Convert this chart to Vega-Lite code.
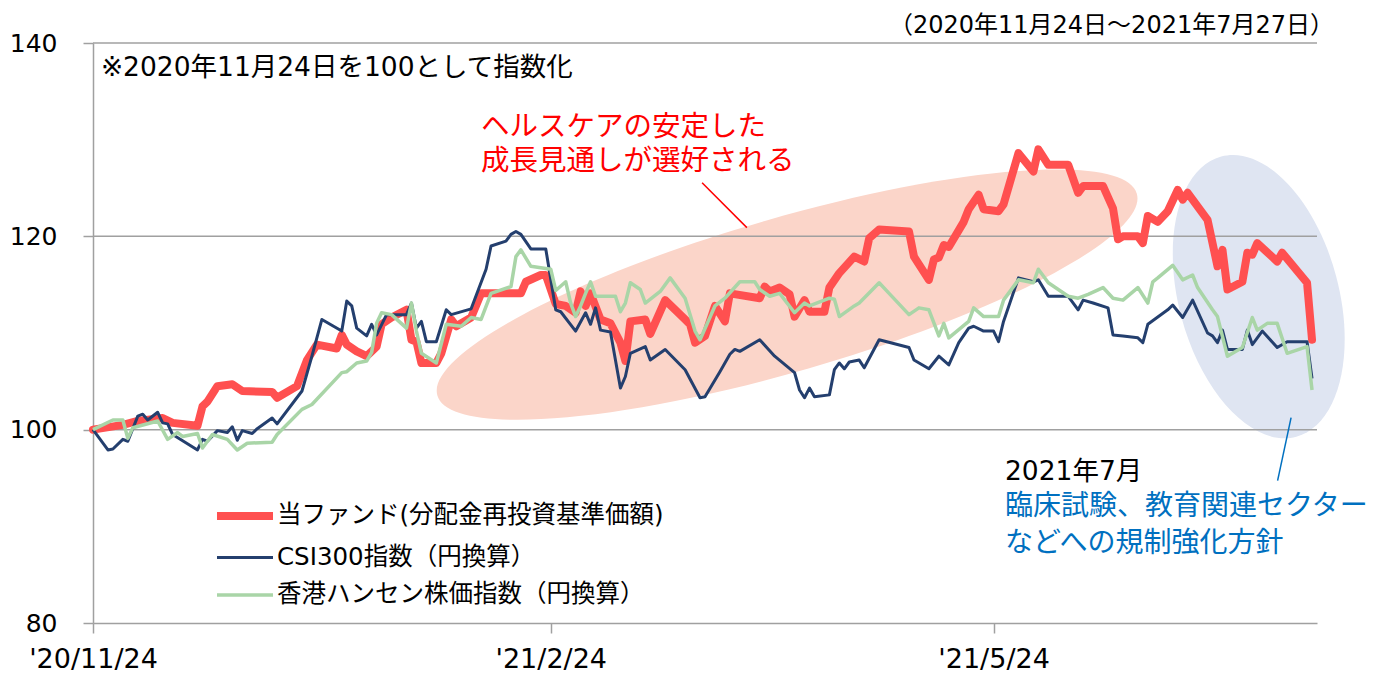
{
  "$schema": "https://vega.github.io/schema/vega-lite/v6.json",
  "width": 1224,
  "height": 580,
  "autosize": {"type": "none"},
  "padding": {"left": 93, "top": 43, "right": 67, "bottom": 50},
  "background": "#ffffff",
  "config": {
    "view": {"stroke": null},
    "font": "DejaVu Sans, Noto Sans CJK JP",
    "legend": {"orient": "none", "legendX": 124, "legendY": 445, "symbolType": "M -1.1667 0 L 1.1667 0", "symbolSize": 2304, "labelFont": "DejaVu Sans, Noto Sans CJK JP", "labelFontSize": 24.5, "labelColor": "#000000", "labelLimit": 0, "rowPadding": 0, "padding": 0, "labelOffset": 4}
  },
  "datasets": {
    "series": [
      {"s": "fund", "date": "2020-11-24", "value": 100.0}, {"s": "fund", "date": "2020-11-30", "value": 100.5}, {"s": "fund", "date": "2020-12-03", "value": 100.9}, {"s": "fund", "date": "2020-12-08", "value": 101.2}, {"s": "fund", "date": "2020-12-10", "value": 100.7}, {"s": "fund", "date": "2020-12-15", "value": 100.4}, {"s": "fund", "date": "2020-12-16", "value": 102.4}, {"s": "fund", "date": "2020-12-17", "value": 102.9}, {"s": "fund", "date": "2020-12-19", "value": 104.5}, {"s": "fund", "date": "2020-12-22", "value": 104.7}, {"s": "fund", "date": "2020-12-24", "value": 104.0}, {"s": "fund", "date": "2020-12-30", "value": 103.9}, {"s": "fund", "date": "2020-12-31", "value": 103.3},
      {"s": "fund", "date": "2021-01-04", "value": 104.5}, {"s": "fund", "date": "2021-01-06", "value": 107.2}, {"s": "fund", "date": "2021-01-08", "value": 108.8}, {"s": "fund", "date": "2021-01-12", "value": 108.4}, {"s": "fund", "date": "2021-01-13", "value": 109.8}, {"s": "fund", "date": "2021-01-14", "value": 108.8}, {"s": "fund", "date": "2021-01-16", "value": 108.1}, {"s": "fund", "date": "2021-01-18", "value": 107.6}, {"s": "fund", "date": "2021-01-20", "value": 108.6}, {"s": "fund", "date": "2021-01-21", "value": 110.9}, {"s": "fund", "date": "2021-01-23", "value": 111.6}, {"s": "fund", "date": "2021-01-26", "value": 112.4}, {"s": "fund", "date": "2021-01-27", "value": 109.3}, {"s": "fund", "date": "2021-01-28", "value": 109.1}, {"s": "fund", "date": "2021-01-29", "value": 106.9},
      {"s": "fund", "date": "2021-02-01", "value": 106.9}, {"s": "fund", "date": "2021-02-02", "value": 107.9}, {"s": "fund", "date": "2021-02-04", "value": 111.4}, {"s": "fund", "date": "2021-02-05", "value": 110.7}, {"s": "fund", "date": "2021-02-08", "value": 111.6}, {"s": "fund", "date": "2021-02-10", "value": 114.1}, {"s": "fund", "date": "2021-02-18", "value": 114.1}, {"s": "fund", "date": "2021-02-19", "value": 115.3}, {"s": "fund", "date": "2021-02-22", "value": 116.0}, {"s": "fund", "date": "2021-02-23", "value": 116.0}, {"s": "fund", "date": "2021-02-25", "value": 113.0}, {"s": "fund", "date": "2021-02-27", "value": 112.8},
      {"s": "fund", "date": "2021-03-01", "value": 112.1}, {"s": "fund", "date": "2021-03-02", "value": 114.3}, {"s": "fund", "date": "2021-03-03", "value": 112.8}, {"s": "fund", "date": "2021-03-04", "value": 114.1}, {"s": "fund", "date": "2021-03-06", "value": 111.4}, {"s": "fund", "date": "2021-03-08", "value": 111.0}, {"s": "fund", "date": "2021-03-10", "value": 109.0}, {"s": "fund", "date": "2021-03-11", "value": 107.1}, {"s": "fund", "date": "2021-03-12", "value": 111.2}, {"s": "fund", "date": "2021-03-15", "value": 111.4}, {"s": "fund", "date": "2021-03-16", "value": 109.9}, {"s": "fund", "date": "2021-03-19", "value": 113.4}, {"s": "fund", "date": "2021-03-23", "value": 111.4}, {"s": "fund", "date": "2021-03-24", "value": 110.9}, {"s": "fund", "date": "2021-03-25", "value": 109.0}, {"s": "fund", "date": "2021-03-27", "value": 109.7}, {"s": "fund", "date": "2021-03-29", "value": 112.8}, {"s": "fund", "date": "2021-03-31", "value": 111.2},
      {"s": "fund", "date": "2021-04-01", "value": 114.1}, {"s": "fund", "date": "2021-04-07", "value": 113.6}, {"s": "fund", "date": "2021-04-08", "value": 114.8}, {"s": "fund", "date": "2021-04-09", "value": 114.3}, {"s": "fund", "date": "2021-04-11", "value": 114.7}, {"s": "fund", "date": "2021-04-13", "value": 114.0}, {"s": "fund", "date": "2021-04-14", "value": 111.7}, {"s": "fund", "date": "2021-04-16", "value": 113.4}, {"s": "fund", "date": "2021-04-17", "value": 112.2}, {"s": "fund", "date": "2021-04-20", "value": 112.2}, {"s": "fund", "date": "2021-04-21", "value": 114.7}, {"s": "fund", "date": "2021-04-23", "value": 116.2}, {"s": "fund", "date": "2021-04-26", "value": 117.9}, {"s": "fund", "date": "2021-04-28", "value": 117.4}, {"s": "fund", "date": "2021-04-29", "value": 119.8},
      {"s": "fund", "date": "2021-05-01", "value": 120.7}, {"s": "fund", "date": "2021-05-07", "value": 120.5}, {"s": "fund", "date": "2021-05-08", "value": 117.9}, {"s": "fund", "date": "2021-05-11", "value": 115.5}, {"s": "fund", "date": "2021-05-12", "value": 117.6}, {"s": "fund", "date": "2021-05-13", "value": 117.8}, {"s": "fund", "date": "2021-05-14", "value": 119.1}, {"s": "fund", "date": "2021-05-15", "value": 118.9}, {"s": "fund", "date": "2021-05-18", "value": 121.5}, {"s": "fund", "date": "2021-05-19", "value": 122.8}, {"s": "fund", "date": "2021-05-21", "value": 124.3}, {"s": "fund", "date": "2021-05-22", "value": 122.8}, {"s": "fund", "date": "2021-05-25", "value": 122.6}, {"s": "fund", "date": "2021-05-26", "value": 123.3}, {"s": "fund", "date": "2021-05-29", "value": 128.6},
      {"s": "fund", "date": "2021-06-01", "value": 126.7}, {"s": "fund", "date": "2021-06-02", "value": 129.0}, {"s": "fund", "date": "2021-06-04", "value": 127.4}, {"s": "fund", "date": "2021-06-08", "value": 127.4}, {"s": "fund", "date": "2021-06-10", "value": 124.5}, {"s": "fund", "date": "2021-06-11", "value": 125.2}, {"s": "fund", "date": "2021-06-15", "value": 125.2}, {"s": "fund", "date": "2021-06-17", "value": 122.9}, {"s": "fund", "date": "2021-06-18", "value": 119.7}, {"s": "fund", "date": "2021-06-19", "value": 120.0}, {"s": "fund", "date": "2021-06-22", "value": 120.0}, {"s": "fund", "date": "2021-06-23", "value": 119.3}, {"s": "fund", "date": "2021-06-24", "value": 122.1}, {"s": "fund", "date": "2021-06-26", "value": 121.5}, {"s": "fund", "date": "2021-06-28", "value": 122.6}, {"s": "fund", "date": "2021-06-30", "value": 124.8},
      {"s": "fund", "date": "2021-07-01", "value": 123.8}, {"s": "fund", "date": "2021-07-02", "value": 124.5}, {"s": "fund", "date": "2021-07-06", "value": 121.7}, {"s": "fund", "date": "2021-07-08", "value": 116.9}, {"s": "fund", "date": "2021-07-09", "value": 118.6}, {"s": "fund", "date": "2021-07-10", "value": 114.5}, {"s": "fund", "date": "2021-07-13", "value": 115.3}, {"s": "fund", "date": "2021-07-14", "value": 118.3}, {"s": "fund", "date": "2021-07-15", "value": 118.1}, {"s": "fund", "date": "2021-07-16", "value": 119.3}, {"s": "fund", "date": "2021-07-20", "value": 117.4}, {"s": "fund", "date": "2021-07-21", "value": 118.3}, {"s": "fund", "date": "2021-07-26", "value": 115.2}, {"s": "fund", "date": "2021-07-27", "value": 109.3},

      {"s": "csi", "date": "2020-11-24", "value": 100.0}, {"s": "csi", "date": "2020-11-27", "value": 97.9}, {"s": "csi", "date": "2020-11-28", "value": 98.0}, {"s": "csi", "date": "2020-11-30", "value": 99.0}, {"s": "csi", "date": "2020-12-01", "value": 98.8}, {"s": "csi", "date": "2020-12-03", "value": 101.4}, {"s": "csi", "date": "2020-12-04", "value": 101.6}, {"s": "csi", "date": "2020-12-05", "value": 101.0}, {"s": "csi", "date": "2020-12-07", "value": 101.8}, {"s": "csi", "date": "2020-12-08", "value": 100.7}, {"s": "csi", "date": "2020-12-09", "value": 100.6}, {"s": "csi", "date": "2020-12-10", "value": 99.5}, {"s": "csi", "date": "2020-12-15", "value": 97.9}, {"s": "csi", "date": "2020-12-16", "value": 99.0}, {"s": "csi", "date": "2020-12-17", "value": 98.8}, {"s": "csi", "date": "2020-12-19", "value": 99.9}, {"s": "csi", "date": "2020-12-21", "value": 99.7}, {"s": "csi", "date": "2020-12-22", "value": 100.3}, {"s": "csi", "date": "2020-12-23", "value": 98.9}, {"s": "csi", "date": "2020-12-24", "value": 99.9}, {"s": "csi", "date": "2020-12-26", "value": 99.6}, {"s": "csi", "date": "2020-12-27", "value": 100.1}, {"s": "csi", "date": "2020-12-30", "value": 101.2}, {"s": "csi", "date": "2020-12-31", "value": 100.6},
      {"s": "csi", "date": "2021-01-05", "value": 104.0}, {"s": "csi", "date": "2021-01-07", "value": 107.6}, {"s": "csi", "date": "2021-01-09", "value": 111.4}, {"s": "csi", "date": "2021-01-13", "value": 110.2}, {"s": "csi", "date": "2021-01-14", "value": 113.3}, {"s": "csi", "date": "2021-01-15", "value": 112.8}, {"s": "csi", "date": "2021-01-16", "value": 110.5}, {"s": "csi", "date": "2021-01-18", "value": 109.7}, {"s": "csi", "date": "2021-01-19", "value": 110.9}, {"s": "csi", "date": "2021-01-20", "value": 109.8}, {"s": "csi", "date": "2021-01-22", "value": 111.9}, {"s": "csi", "date": "2021-01-26", "value": 111.9}, {"s": "csi", "date": "2021-01-27", "value": 113.1}, {"s": "csi", "date": "2021-01-28", "value": 110.5}, {"s": "csi", "date": "2021-01-29", "value": 111.2}, {"s": "csi", "date": "2021-01-30", "value": 109.1},
      {"s": "csi", "date": "2021-02-01", "value": 109.1}, {"s": "csi", "date": "2021-02-03", "value": 112.4}, {"s": "csi", "date": "2021-02-04", "value": 111.9}, {"s": "csi", "date": "2021-02-08", "value": 112.5}, {"s": "csi", "date": "2021-02-11", "value": 116.6}, {"s": "csi", "date": "2021-02-12", "value": 119.0}, {"s": "csi", "date": "2021-02-15", "value": 119.5}, {"s": "csi", "date": "2021-02-16", "value": 120.2}, {"s": "csi", "date": "2021-02-17", "value": 120.5}, {"s": "csi", "date": "2021-02-18", "value": 120.2}, {"s": "csi", "date": "2021-02-20", "value": 118.7}, {"s": "csi", "date": "2021-02-23", "value": 118.7}, {"s": "csi", "date": "2021-02-25", "value": 112.4}, {"s": "csi", "date": "2021-02-26", "value": 112.2},
      {"s": "csi", "date": "2021-03-01", "value": 110.2}, {"s": "csi", "date": "2021-03-03", "value": 112.1}, {"s": "csi", "date": "2021-03-04", "value": 110.9}, {"s": "csi", "date": "2021-03-05", "value": 112.6}, {"s": "csi", "date": "2021-03-06", "value": 110.3}, {"s": "csi", "date": "2021-03-08", "value": 110.1}, {"s": "csi", "date": "2021-03-10", "value": 104.3}, {"s": "csi", "date": "2021-03-11", "value": 105.5}, {"s": "csi", "date": "2021-03-12", "value": 107.9}, {"s": "csi", "date": "2021-03-15", "value": 108.6}, {"s": "csi", "date": "2021-03-16", "value": 107.2}, {"s": "csi", "date": "2021-03-19", "value": 108.3}, {"s": "csi", "date": "2021-03-23", "value": 106.2}, {"s": "csi", "date": "2021-03-26", "value": 103.3}, {"s": "csi", "date": "2021-03-27", "value": 103.4}, {"s": "csi", "date": "2021-03-30", "value": 106.0},
      {"s": "csi", "date": "2021-04-01", "value": 107.8}, {"s": "csi", "date": "2021-04-02", "value": 108.3}, {"s": "csi", "date": "2021-04-03", "value": 108.1}, {"s": "csi", "date": "2021-04-07", "value": 109.3}, {"s": "csi", "date": "2021-04-10", "value": 107.6}, {"s": "csi", "date": "2021-04-14", "value": 105.9}, {"s": "csi", "date": "2021-04-15", "value": 104.1}, {"s": "csi", "date": "2021-04-16", "value": 103.3}, {"s": "csi", "date": "2021-04-17", "value": 104.3}, {"s": "csi", "date": "2021-04-18", "value": 103.4}, {"s": "csi", "date": "2021-04-21", "value": 103.6}, {"s": "csi", "date": "2021-04-22", "value": 106.2}, {"s": "csi", "date": "2021-04-23", "value": 106.9}, {"s": "csi", "date": "2021-04-24", "value": 106.3}, {"s": "csi", "date": "2021-04-25", "value": 107.0}, {"s": "csi", "date": "2021-04-27", "value": 107.2}, {"s": "csi", "date": "2021-04-28", "value": 106.4},
      {"s": "csi", "date": "2021-05-01", "value": 109.3}, {"s": "csi", "date": "2021-05-07", "value": 108.5}, {"s": "csi", "date": "2021-05-08", "value": 107.2}, {"s": "csi", "date": "2021-05-11", "value": 106.3}, {"s": "csi", "date": "2021-05-13", "value": 107.6}, {"s": "csi", "date": "2021-05-15", "value": 106.7}, {"s": "csi", "date": "2021-05-17", "value": 109.0}, {"s": "csi", "date": "2021-05-19", "value": 110.5}, {"s": "csi", "date": "2021-05-20", "value": 110.7}, {"s": "csi", "date": "2021-05-22", "value": 110.2}, {"s": "csi", "date": "2021-05-24", "value": 110.2}, {"s": "csi", "date": "2021-05-25", "value": 109.1}, {"s": "csi", "date": "2021-05-26", "value": 111.2}, {"s": "csi", "date": "2021-05-29", "value": 115.7},
      {"s": "csi", "date": "2021-06-01", "value": 115.3}, {"s": "csi", "date": "2021-06-02", "value": 115.5}, {"s": "csi", "date": "2021-06-04", "value": 113.8}, {"s": "csi", "date": "2021-06-08", "value": 113.8}, {"s": "csi", "date": "2021-06-10", "value": 112.4}, {"s": "csi", "date": "2021-06-11", "value": 113.4}, {"s": "csi", "date": "2021-06-13", "value": 113.1}, {"s": "csi", "date": "2021-06-16", "value": 112.6}, {"s": "csi", "date": "2021-06-17", "value": 109.8}, {"s": "csi", "date": "2021-06-19", "value": 109.7}, {"s": "csi", "date": "2021-06-22", "value": 109.5}, {"s": "csi", "date": "2021-06-23", "value": 109.0}, {"s": "csi", "date": "2021-06-24", "value": 110.9}, {"s": "csi", "date": "2021-06-28", "value": 112.4}, {"s": "csi", "date": "2021-06-29", "value": 112.9},
      {"s": "csi", "date": "2021-07-01", "value": 111.6}, {"s": "csi", "date": "2021-07-03", "value": 113.4}, {"s": "csi", "date": "2021-07-06", "value": 110.0}, {"s": "csi", "date": "2021-07-07", "value": 109.7}, {"s": "csi", "date": "2021-07-08", "value": 109.0}, {"s": "csi", "date": "2021-07-09", "value": 110.3}, {"s": "csi", "date": "2021-07-10", "value": 108.3}, {"s": "csi", "date": "2021-07-13", "value": 108.3}, {"s": "csi", "date": "2021-07-14", "value": 110.3}, {"s": "csi", "date": "2021-07-15", "value": 108.8}, {"s": "csi", "date": "2021-07-17", "value": 110.2}, {"s": "csi", "date": "2021-07-20", "value": 108.5}, {"s": "csi", "date": "2021-07-22", "value": 109.1}, {"s": "csi", "date": "2021-07-26", "value": 109.1}, {"s": "csi", "date": "2021-07-27", "value": 105.3},

      {"s": "hsi", "date": "2020-11-24", "value": 100.0}, {"s": "hsi", "date": "2020-11-28", "value": 101.0}, {"s": "hsi", "date": "2020-11-30", "value": 101.0}, {"s": "hsi", "date": "2020-12-01", "value": 99.1}, {"s": "hsi", "date": "2020-12-02", "value": 100.2}, {"s": "hsi", "date": "2020-12-07", "value": 100.9}, {"s": "hsi", "date": "2020-12-09", "value": 99.0}, {"s": "hsi", "date": "2020-12-11", "value": 99.7}, {"s": "hsi", "date": "2020-12-12", "value": 99.3}, {"s": "hsi", "date": "2020-12-15", "value": 99.6}, {"s": "hsi", "date": "2020-12-16", "value": 98.1}, {"s": "hsi", "date": "2020-12-18", "value": 99.5}, {"s": "hsi", "date": "2020-12-21", "value": 99.0}, {"s": "hsi", "date": "2020-12-23", "value": 97.9}, {"s": "hsi", "date": "2020-12-25", "value": 98.6}, {"s": "hsi", "date": "2020-12-30", "value": 98.7}, {"s": "hsi", "date": "2020-12-31", "value": 99.5},
      {"s": "hsi", "date": "2021-01-05", "value": 102.1}, {"s": "hsi", "date": "2021-01-07", "value": 102.6}, {"s": "hsi", "date": "2021-01-13", "value": 105.9}, {"s": "hsi", "date": "2021-01-14", "value": 106.0}, {"s": "hsi", "date": "2021-01-16", "value": 106.9}, {"s": "hsi", "date": "2021-01-18", "value": 107.1}, {"s": "hsi", "date": "2021-01-19", "value": 108.0}, {"s": "hsi", "date": "2021-01-20", "value": 111.0}, {"s": "hsi", "date": "2021-01-21", "value": 112.1}, {"s": "hsi", "date": "2021-01-23", "value": 111.9}, {"s": "hsi", "date": "2021-01-26", "value": 110.5}, {"s": "hsi", "date": "2021-01-27", "value": 113.1}, {"s": "hsi", "date": "2021-01-28", "value": 110.2}, {"s": "hsi", "date": "2021-01-29", "value": 107.9},
      {"s": "hsi", "date": "2021-02-01", "value": 106.9}, {"s": "hsi", "date": "2021-02-03", "value": 110.9}, {"s": "hsi", "date": "2021-02-06", "value": 110.7}, {"s": "hsi", "date": "2021-02-08", "value": 111.6}, {"s": "hsi", "date": "2021-02-10", "value": 111.4}, {"s": "hsi", "date": "2021-02-12", "value": 114.1}, {"s": "hsi", "date": "2021-02-16", "value": 114.8}, {"s": "hsi", "date": "2021-02-17", "value": 117.9}, {"s": "hsi", "date": "2021-02-18", "value": 118.6}, {"s": "hsi", "date": "2021-02-20", "value": 116.9}, {"s": "hsi", "date": "2021-02-24", "value": 116.6}, {"s": "hsi", "date": "2021-02-25", "value": 114.4}, {"s": "hsi", "date": "2021-02-27", "value": 115.3}, {"s": "hsi", "date": "2021-02-28", "value": 113.1},
      {"s": "hsi", "date": "2021-03-01", "value": 111.7}, {"s": "hsi", "date": "2021-03-02", "value": 112.8}, {"s": "hsi", "date": "2021-03-03", "value": 114.1}, {"s": "hsi", "date": "2021-03-04", "value": 115.3}, {"s": "hsi", "date": "2021-03-05", "value": 113.8}, {"s": "hsi", "date": "2021-03-09", "value": 113.8}, {"s": "hsi", "date": "2021-03-10", "value": 112.2}, {"s": "hsi", "date": "2021-03-11", "value": 113.1}, {"s": "hsi", "date": "2021-03-12", "value": 115.2}, {"s": "hsi", "date": "2021-03-14", "value": 114.5}, {"s": "hsi", "date": "2021-03-15", "value": 113.1}, {"s": "hsi", "date": "2021-03-18", "value": 114.3}, {"s": "hsi", "date": "2021-03-20", "value": 115.7}, {"s": "hsi", "date": "2021-03-23", "value": 113.6}, {"s": "hsi", "date": "2021-03-25", "value": 110.2}, {"s": "hsi", "date": "2021-03-26", "value": 109.3}, {"s": "hsi", "date": "2021-03-29", "value": 112.8}, {"s": "hsi", "date": "2021-03-31", "value": 113.6},
      {"s": "hsi", "date": "2021-04-03", "value": 115.3}, {"s": "hsi", "date": "2021-04-06", "value": 115.3}, {"s": "hsi", "date": "2021-04-07", "value": 114.5}, {"s": "hsi", "date": "2021-04-09", "value": 113.8}, {"s": "hsi", "date": "2021-04-11", "value": 114.1}, {"s": "hsi", "date": "2021-04-14", "value": 112.1}, {"s": "hsi", "date": "2021-04-16", "value": 113.1}, {"s": "hsi", "date": "2021-04-17", "value": 112.8}, {"s": "hsi", "date": "2021-04-21", "value": 113.6}, {"s": "hsi", "date": "2021-04-22", "value": 113.5}, {"s": "hsi", "date": "2021-04-23", "value": 111.7}, {"s": "hsi", "date": "2021-04-26", "value": 112.8}, {"s": "hsi", "date": "2021-04-27", "value": 113.1},
      {"s": "hsi", "date": "2021-05-01", "value": 115.2}, {"s": "hsi", "date": "2021-05-03", "value": 114.1}, {"s": "hsi", "date": "2021-05-07", "value": 111.9}, {"s": "hsi", "date": "2021-05-09", "value": 112.6}, {"s": "hsi", "date": "2021-05-11", "value": 112.4}, {"s": "hsi", "date": "2021-05-13", "value": 109.7}, {"s": "hsi", "date": "2021-05-14", "value": 111.0}, {"s": "hsi", "date": "2021-05-15", "value": 109.5}, {"s": "hsi", "date": "2021-05-19", "value": 111.2}, {"s": "hsi", "date": "2021-05-20", "value": 112.6}, {"s": "hsi", "date": "2021-05-22", "value": 111.7}, {"s": "hsi", "date": "2021-05-25", "value": 111.7}, {"s": "hsi", "date": "2021-05-26", "value": 113.4}, {"s": "hsi", "date": "2021-05-29", "value": 115.5},
      {"s": "hsi", "date": "2021-06-01", "value": 115.2}, {"s": "hsi", "date": "2021-06-02", "value": 116.6}, {"s": "hsi", "date": "2021-06-04", "value": 115.2}, {"s": "hsi", "date": "2021-06-08", "value": 113.8}, {"s": "hsi", "date": "2021-06-10", "value": 113.6}, {"s": "hsi", "date": "2021-06-12", "value": 114.0}, {"s": "hsi", "date": "2021-06-15", "value": 114.7}, {"s": "hsi", "date": "2021-06-17", "value": 113.6}, {"s": "hsi", "date": "2021-06-19", "value": 113.4}, {"s": "hsi", "date": "2021-06-22", "value": 114.7}, {"s": "hsi", "date": "2021-06-24", "value": 113.1}, {"s": "hsi", "date": "2021-06-25", "value": 115.3}, {"s": "hsi", "date": "2021-06-26", "value": 115.7}, {"s": "hsi", "date": "2021-06-29", "value": 117.0},
      {"s": "hsi", "date": "2021-07-01", "value": 115.5}, {"s": "hsi", "date": "2021-07-03", "value": 116.0}, {"s": "hsi", "date": "2021-07-04", "value": 114.7}, {"s": "hsi", "date": "2021-07-07", "value": 112.4}, {"s": "hsi", "date": "2021-07-08", "value": 111.7}, {"s": "hsi", "date": "2021-07-10", "value": 107.6}, {"s": "hsi", "date": "2021-07-13", "value": 108.5}, {"s": "hsi", "date": "2021-07-15", "value": 111.6}, {"s": "hsi", "date": "2021-07-16", "value": 110.3}, {"s": "hsi", "date": "2021-07-18", "value": 111.0}, {"s": "hsi", "date": "2021-07-20", "value": 111.0}, {"s": "hsi", "date": "2021-07-22", "value": 107.9}, {"s": "hsi", "date": "2021-07-26", "value": 108.6}, {"s": "hsi", "date": "2021-07-27", "value": 104.1}
    ]
  },
  "layer": [
    {
      "data": {"values": [{"date": "2021-04-12T12:00:00", "value": 113.97}]},
      "mark": {"type": "point", "shape": "M -1 0 A 1 0.2115 0 1 0 1 0 A 1 0.2115 0 1 0 -1 0 Z", "filled": true, "fill": "#FBD5C9", "strokeWidth": 0, "opacity": 1, "size": 529984, "angle": -16.1},
      "encoding": {
        "x": {"field": "date", "type": "temporal", "title": null},
        "y": {"field": "value", "type": "quantitative", "title": null}
      }
    },
    {
      "data": {"values": [{"date": "2021-07-16T07:00:00", "value": 113.76}]},
      "mark": {"type": "point", "shape": "M -1 0 A 1 0.552 0 1 0 1 0 A 1 0.552 0 1 0 -1 0 Z", "filled": true, "fill": "#DFE5F2", "strokeWidth": 0, "opacity": 1, "size": 84100, "angle": 75},
      "encoding": {
        "x": {"field": "date", "type": "temporal", "title": null},
        "y": {"field": "value", "type": "quantitative", "title": null}
      }
    },
    {
      "data": {"values": [{"value": 100}, {"value": 120}, {"value": 140}]},
      "mark": {"type": "rule", "color": "#A0A0A0", "strokeWidth": 1.5},
      "encoding": {"y": {"field": "value", "type": "quantitative", "title": null}}
    },
    {
      "data": {"name": "series"},
      "transform": [{"filter": {"field": "s", "equal": "fund"}}],
      "mark": {"type": "line", "strokeCap": "round", "strokeJoin": "round"},
      "encoding": {
        "x": {"field": "date", "type": "temporal", "title": null,
          "scale": {"domain": [{"year": 2020, "month": 11, "date": 24}, {"year": 2021, "month": 7, "date": 28}], "nice": false},
          "axis": {"values": [{"year": 2020, "month": 11, "date": 24}, {"year": 2021, "month": 2, "date": 24}, {"year": 2021, "month": 5, "date": 24}], "format": "'%y/%-m/%-d", "grid": false, "domainColor": "#A0A0A0", "domainWidth": 1.5, "tickColor": "#A0A0A0", "tickWidth": 1.5, "tickSize": 10, "labelFont": "DejaVu Sans", "labelFontSize": 27, "labelColor": "#000000", "labelPadding": 13, "labelFlush": false, "labelOverlap": false}},
        "y": {"field": "value", "type": "quantitative", "title": null,
          "scale": {"domain": [80, 140], "nice": false, "zero": false},
          "axis": {"values": [80, 100, 120, 140], "grid": false, "domainColor": "#A0A0A0", "domainWidth": 1.5, "tickColor": "#A0A0A0", "tickWidth": 1.5, "tickSize": 10, "labelFont": "DejaVu Sans", "labelFontSize": 25, "labelColor": "#000000", "labelPadding": 26}},
        "color": {"field": "s", "type": "nominal", "title": null, "scale": {"domain": ["fund", "csi", "hsi"], "range": ["#FF5050", "#243F6E", "#A9D5A7"]},
          "legend": {"title": null, "labelExpr": "datum.label === 'fund' ? '当ファンド(分配金再投資基準価額)' : datum.label === 'csi' ? 'CSI300指数（円換算）' : '香港ハンセン株価指数（円換算）'"}},
        "strokeWidth": {"field": "s", "type": "nominal", "title": null, "scale": {"type": "ordinal", "domain": ["fund", "csi", "hsi"], "range": [8, 3, 3.5]},
          "legend": {"title": null, "labelExpr": "datum.label === 'fund' ? '当ファンド(分配金再投資基準価額)' : datum.label === 'csi' ? 'CSI300指数（円換算）' : '香港ハンセン株価指数（円換算）'"}}
      }
    },
    {
      "data": {"name": "series"},
      "transform": [{"filter": {"field": "s", "equal": "csi"}}],
      "mark": {"type": "line", "strokeJoin": "round"},
      "encoding": {
        "x": {"field": "date", "type": "temporal", "title": null},
        "y": {"field": "value", "type": "quantitative", "title": null},
        "color": {"field": "s", "type": "nominal", "title": null, "scale": {"domain": ["fund", "csi", "hsi"], "range": ["#FF5050", "#243F6E", "#A9D5A7"]},
          "legend": {"title": null, "labelExpr": "datum.label === 'fund' ? '当ファンド(分配金再投資基準価額)' : datum.label === 'csi' ? 'CSI300指数（円換算）' : '香港ハンセン株価指数（円換算）'"}},
        "strokeWidth": {"field": "s", "type": "nominal", "title": null, "scale": {"type": "ordinal", "domain": ["fund", "csi", "hsi"], "range": [8, 3, 3.5]},
          "legend": {"title": null, "labelExpr": "datum.label === 'fund' ? '当ファンド(分配金再投資基準価額)' : datum.label === 'csi' ? 'CSI300指数（円換算）' : '香港ハンセン株価指数（円換算）'"}}
      }
    },
    {
      "data": {"name": "series"},
      "transform": [{"filter": {"field": "s", "equal": "hsi"}}],
      "mark": {"type": "line", "strokeJoin": "round"},
      "encoding": {
        "x": {"field": "date", "type": "temporal", "title": null},
        "y": {"field": "value", "type": "quantitative", "title": null},
        "color": {"field": "s", "type": "nominal", "title": null, "scale": {"domain": ["fund", "csi", "hsi"], "range": ["#FF5050", "#243F6E", "#A9D5A7"]},
          "legend": {"title": null, "labelExpr": "datum.label === 'fund' ? '当ファンド(分配金再投資基準価額)' : datum.label === 'csi' ? 'CSI300指数（円換算）' : '香港ハンセン株価指数（円換算）'"}},
        "strokeWidth": {"field": "s", "type": "nominal", "title": null, "scale": {"type": "ordinal", "domain": ["fund", "csi", "hsi"], "range": [8, 3, 3.5]},
          "legend": {"title": null, "labelExpr": "datum.label === 'fund' ? '当ファンド(分配金再投資基準価額)' : datum.label === 'csi' ? 'CSI300指数（円換算）' : '香港ハンセン株価指数（円換算）'"}}
      }
    },
    {
      "data": {"values": [{"label": "（2020年11月24日～2021年7月27日）"}]},
      "mark": {"type": "text", "align": "right", "baseline": "middle", "font": "DejaVu Sans, Noto Sans CJK JP", "fontSize": 24, "color": "#000000", "dx": 17},
      "encoding": {
        "x": {"datum": {"year": 2021, "month": 7, "date": 28}, "type": "temporal", "title": null},
        "y": {"datum": 141.79, "type": "quantitative", "title": null},
        "text": {"field": "label"}
      }
    },
    {
      "data": {"values": [{"label": "※2020年11月24日を100として指数化"}]},
      "mark": {"type": "text", "align": "left", "baseline": "middle", "font": "DejaVu Sans, Noto Sans CJK JP", "fontSize": 26.5, "color": "#000000"},
      "encoding": {
        "x": {"datum": {"year": 2020, "month": 11, "date": 25, "hours": 14}, "type": "temporal", "title": null},
        "y": {"datum": 137.45, "type": "quantitative", "title": null},
        "text": {"field": "label"}
      }
    },
    {
      "data": {"values": [{"label": "ヘルスケアの安定した"}]},
      "mark": {"type": "text", "align": "left", "baseline": "middle", "font": "Noto Sans CJK JP", "fontSize": 28.5, "color": "#FF0000"},
      "encoding": {
        "x": {"datum": {"year": 2021, "month": 2, "date": 10}, "type": "temporal", "title": null},
        "y": {"datum": 131.3, "type": "quantitative", "title": null},
        "text": {"field": "label"}
      }
    },
    {
      "data": {"values": [{"label": "成長見通しが選好される"}]},
      "mark": {"type": "text", "align": "left", "baseline": "middle", "font": "Noto Sans CJK JP", "fontSize": 28.5, "color": "#FF0000"},
      "encoding": {
        "x": {"datum": {"year": 2021, "month": 2, "date": 10}, "type": "temporal", "title": null},
        "y": {"datum": 127.75, "type": "quantitative", "title": null},
        "text": {"field": "label"}
      }
    },
    {
      "data": {"values": [{"label": "leader"}]},
      "mark": {"type": "rule", "color": "#FF0000", "strokeWidth": 1.5},
      "encoding": {
        "x": {"datum": {"year": 2021, "month": 3, "date": 26, "hours": 10}, "type": "temporal", "title": null},
        "x2": {"datum": {"year": 2021, "month": 4, "date": 4, "hours": 10}},
        "y": {"datum": 125.55, "type": "quantitative", "title": null},
        "y2": {"datum": 120.9}
      }
    },
    {
      "data": {"values": [{"label": "2021年7月"}]},
      "mark": {"type": "text", "align": "left", "baseline": "middle", "font": "DejaVu Sans, Noto Sans CJK JP", "fontSize": 26.5, "color": "#000000"},
      "encoding": {
        "x": {"datum": {"year": 2021, "month": 5, "date": 26, "hours": 7}, "type": "temporal", "title": null},
        "y": {"datum": 95.6, "type": "quantitative", "title": null},
        "text": {"field": "label"}
      }
    },
    {
      "data": {"values": [{"label": "臨床試験、教育関連セクター"}]},
      "mark": {"type": "text", "align": "left", "baseline": "middle", "font": "Noto Sans CJK JP", "fontSize": 28, "color": "#0070C0"},
      "encoding": {
        "x": {"datum": {"year": 2021, "month": 5, "date": 26, "hours": 7}, "type": "temporal", "title": null},
        "y": {"datum": 91.96, "type": "quantitative", "title": null},
        "text": {"field": "label"}
      }
    },
    {
      "data": {"values": [{"label": "などへの規制強化方針"}]},
      "mark": {"type": "text", "align": "left", "baseline": "middle", "font": "Noto Sans CJK JP", "fontSize": 28, "color": "#0070C0"},
      "encoding": {
        "x": {"datum": {"year": 2021, "month": 5, "date": 26, "hours": 7}, "type": "temporal", "title": null},
        "y": {"datum": 88.13, "type": "quantitative", "title": null},
        "text": {"field": "label"}
      }
    },
    {
      "data": {"values": [{"label": "leader"}]},
      "mark": {"type": "rule", "color": "#0070C0", "strokeWidth": 1.5},
      "encoding": {
        "x": {"datum": {"year": 2021, "month": 7, "date": 22, "hours": 19}, "type": "temporal", "title": null},
        "x2": {"datum": {"year": 2021, "month": 7, "date": 20, "hours": 2}},
        "y": {"datum": 101.24, "type": "quantitative", "title": null},
        "y2": {"datum": 94.72}
      }
    }
  ]
}
